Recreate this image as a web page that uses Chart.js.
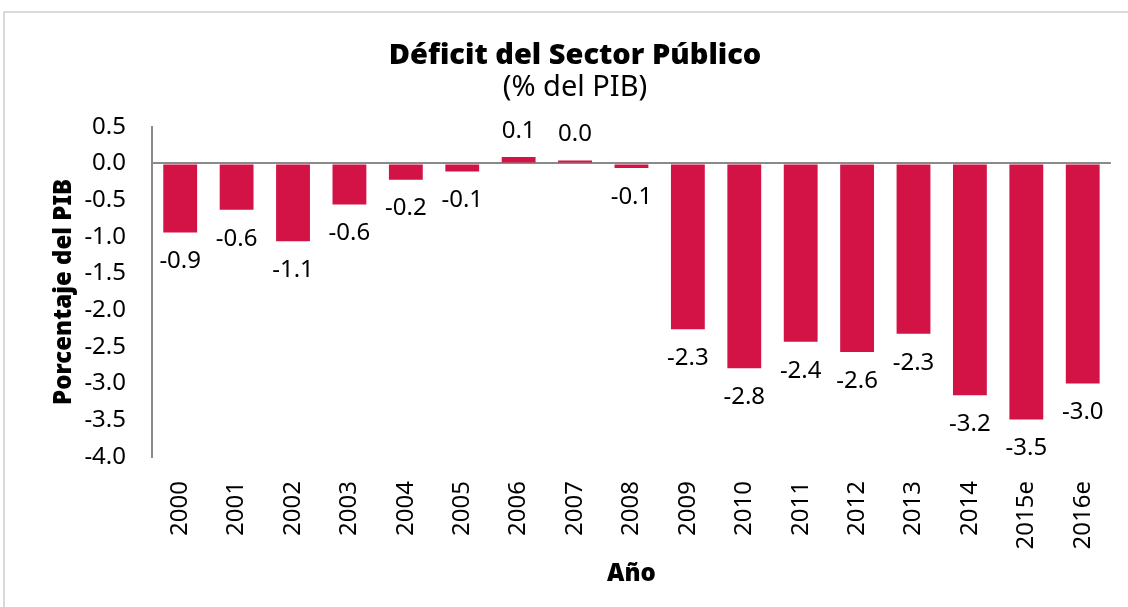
<!DOCTYPE html>
<html>
<head>
<meta charset="utf-8">
<script src="https://cdn.jsdelivr.net/npm/chart.js@4"></script>
<style>
  body { margin: 0; background: #fff; }
  #wrap { position: relative; width: 1128px; height: 607px; overflow: hidden; }
  #frame { position: absolute; left: 3px; top: 11px; width: 1140px; height: 620px; border: 2px solid #d9d9d9; }
  canvas { position: absolute; left: 0; top: 0; }
</style>
</head>
<body>
<div id="wrap">
  <div id="frame"></div>
  <canvas id="deficitChart" width="1128" height="607"></canvas>
</div>
<script>
// Datos
const years = ['2000', '2001', '2002', '2003', '2004', '2005', '2006', '2007', '2008',
    '2009', '2010', '2011', '2012', '2013', '2014', '2015e', '2016e'];
const deficit = [-0.94, -0.63, -1.06, -0.56, -0.22, -0.11, 0.09, 0.04, -0.06,
    -2.26, -2.79, -2.43, -2.57, -2.32, -3.16, -3.49, -3.0];
const yTicks = [0.5, 0.0, -0.5, -1.0, -1.5, -2.0, -2.5, -3.0, -3.5, -4.0];

const FONT = '"Noto Sans", "Open Sans", sans-serif';
const barColor = '#d31245';
const axisGray = '#8a8a8a';
const padLeft = 38;

// etiquetas de valor (fuera del extremo de la barra)
const valueLabels = {
    id: 'valueLabels',
    afterDatasetsDraw(chart) {
        const ctx = chart.ctx;
        const meta = chart.getDatasetMeta(0);
        ctx.save();
        ctx.font = '24px ' + FONT;
        ctx.fillStyle = '#000';
        ctx.textAlign = 'center';
        ctx.textBaseline = 'middle';
        meta.data.forEach((bar, i) => {
            const v = deficit[i];
            const y = v >= 0 ? bar.y - 26 : bar.y + 29;
            ctx.fillText(v.toFixed(1), bar.x, y);
        });
        ctx.restore();
    }
};

const ctx = document.getElementById('deficitChart').getContext('2d');
new Chart(ctx, {
    type: 'bar',
    data: {
        labels: years,
        datasets: [{
            data: deficit,
            backgroundColor: barColor,
            borderWidth: 0,
            barPercentage: 0.6,
            categoryPercentage: 1.0
        }]
    },
    options: {
        responsive: false,
        animation: false,
        layout: { padding: { left: padLeft, right: 16, top: 0, bottom: 0 } },
        plugins: {
            legend: { display: false },
            tooltip: { enabled: false },
            title: {
                display: true,
                text: 'Déficit del Sector Público',
                color: '#000',
                font: { family: FONT, size: 29, weight: 900, lineHeight: 1.1 },
                padding: { top: 40, bottom: 0 }
            },
            subtitle: {
                display: true,
                text: '(% del PIB)',
                color: '#000',
                font: { family: FONT, size: 29, lineHeight: 1.1 },
                padding: { top: 0, bottom: 23 }
            }
        },
        scales: {
            x: {
                grid: { display: false },
                border: { display: false },
                ticks: {
                    color: '#000',
                    font: { family: FONT, size: 24 },
                    minRotation: 90,
                    maxRotation: 90,
                    padding: 16,
                    autoSkip: false
                },
                title: {
                    display: true,
                    text: 'Año',
                    color: '#000',
                    font: { family: FONT, size: 24, weight: 900 },
                    padding: { top: 0, bottom: 18 }
                },
                afterFit(scale) { scale.height = 150; }
            },
            y: {
                min: -4.0,
                max: 0.5,
                afterBuildTicks(scale) {
                    scale.ticks = yTicks.map(v => ({ value: v }));
                },
                ticks: {
                    color: '#000',
                    font: { family: FONT, size: 24 },
                    padding: 26,
                    callback: v => v.toFixed(1)
                },
                grid: {
                    drawTicks: false,
                    lineWidth: 2,
                    color: c => (c.tick && c.tick.value === 0 ? axisGray : 'rgba(0,0,0,0)')
                },
                border: { display: true, color: axisGray, width: 2 },
                title: {
                    display: true,
                    text: 'Porcentaje del PIB',
                    color: '#000',
                    font: { family: FONT, size: 24, weight: 900 },
                    padding: { top: 50 - padLeft, bottom: 0 }
                },
                afterFit(scale) { scale.width = 152 - padLeft; }
            }
        }
    },
    plugins: [valueLabels]
});
</script>
</body>
</html>
